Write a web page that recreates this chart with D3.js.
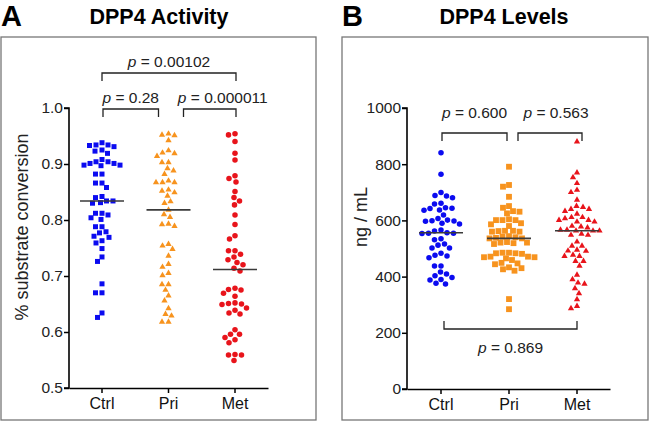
<!DOCTYPE html>
<html><head><meta charset="utf-8">
<script src="https://cdn.jsdelivr.net/npm/d3@7"></script>
<style>body{margin:0;background:#fff}svg{display:block;font-family:"Liberation Sans",Arial,sans-serif}</style>
</head><body><svg id="c" width="650" height="423"></svg>
<script>
const categories = ["Ctrl","Pri","Met"];
// Panel A: DPP4 activity (% substrate conversion)
const actCtrl = [0.934,0.933,0.925,0.931,0.919,0.923,0.938,0.934,
  0.908,0.904,0.901,0.898,0.897,0.898,0.901,0.904,0.882,0.882,0.866,0.858,0.866,
  0.840,0.834,0.831,0.830,0.834,0.842,0.812,0.804,0.801,0.809,0.812,
  0.788,0.777,0.779,0.788,0.769,0.763,0.759,0.771,0.749,0.734,0.726,
  0.686,0.670,0.670,0.626,0.634];
const actPri = [0.954,0.951,0.942,0.952,0.924,0.919,0.914,0.920,0.903,0.903,
  0.892,0.882,0.888,0.870,0.867,0.867,0.867,0.854,0.849,0.843,0.852,0.830,0.833,
  0.818,0.810,0.805,0.793,0.789,0.792,0.754,0.748,0.757,0.736,0.721,0.716,
  0.701,0.705,0.685,0.685,0.675,0.665,0.656,0.642,0.629,0.632,0.618,0.618];
const actMet = [0.952,0.954,0.940,0.919,0.907,0.874,0.868,0.879,0.851,0.840,0.834,0.827,
  0.809,0.792,0.766,0.772,0.745,0.745,0.734,0.739,0.729,0.724,0.720,0.714,0.709,
  0.676,0.669,0.678,0.664,0.675,0.651,0.643,0.649,0.650,0.652,0.634,0.632,0.639,
  0.604,0.596,0.596,0.586,0.581,0.590,0.559,0.549,0.559,0.560];
// Panel B: DPP4 levels (ng / mL)
const lvlCtrl = [841,764,689,681,687,699,661,658,645,637,636,643,642,619,
  601,598,590,587,597,599,607,562,554,554,553,556,566,535,531,
  512,502,502,516,483,473,467,476,438,438,416,409,397,403,390,388,374,376];
const lvlPri = [791,726,720,684,631,625,633,645,651,601,601,586,580,590,601,604,
  563,562,560,560,563,536,538,540,542,544,536,521,521,519,523,516,
  485,483,485,483,481,469,465,471,469,471,444,449,447,459,426,421,430,433,320,284];
const lvlMet = [880,770,753,732,700,708,673,647,640,651,633,640,611,623,611,
  601,595,595,601,607,578,566,563,563,563,566,574,580,548,552,548,524,509,509,
  491,492,495,477,473,473,455,455,438,406,390,374,378,358,340,319,287,295];
const actTicks = [0.5,0.6,0.7,0.8,0.9,1.0];
const lvlTicks = [0,200,400,600,800,1000];
const actPvals = ["0.00102","0.28","0.000011"];
const lvlPvals = ["0.600","0.563","0.869"];

const colors = ["#0b0bf0","#f7931e","#e8141b"];
const svg = d3.select("#c");

function swarm(vals, cx, y, d){
  const pts = vals.map(v=>({v, y:y(v)})).sort((a,b)=>a.y-b.y);
  const placed = [];
  pts.forEach(p=>{
    let best = 0;
    for(let k=0;k<400;k++){
      const off = (k%2===0?1:-1)*Math.ceil(k/2)*0.5;
      const ok = placed.every(q=>{const dx=q.x-(cx+off), dy=q.y-p.y; return dx*dx+dy*dy>=d*d;});
      if(ok){best=off;break;}
    }
    p.x = cx+best; placed.push(p);
  });
  return placed;
}

function panel(o){
  const g = svg.append("g");
  g.append("rect").attr("x",o.box[0]).attr("y",o.box[1]).attr("width",o.box[2]).attr("height",o.box[3])
    .attr("fill","none").attr("stroke","#777").attr("stroke-width",1.3);
  g.append("text").attr("x",o.letterX).attr("y",26).attr("font-size",29).attr("font-weight","bold").text(o.letter);
  g.append("text").attr("x",o.titleX).attr("y",24).attr("font-size",21.5).attr("font-weight","bold")
    .attr("text-anchor","middle").text(o.title);
  const x = d3.scalePoint().domain(categories).range(o.xr);
  const y = d3.scaleLinear().domain(o.yd).range([o.y0,108]);
  const ya = g.append("g").attr("transform",`translate(${o.ax},0)`)
    .call(d3.axisLeft(y).tickValues(o.ticks).tickFormat(o.fmt).tickSize(5).tickPadding(1));
  const xa = g.append("g").attr("transform",`translate(0,${o.y0})`)
    .call(d3.axisBottom(d3.scaleLinear().domain([0,1]).range([o.ax,o.xEnd])).tickValues([]).tickSizeOuter(0));
  categories.forEach(c=>{
    xa.append("line").attr("x1",x(c)).attr("x2",x(c)).attr("y1",0).attr("y2",5).attr("stroke","#000").attr("stroke-width",1.5);
    xa.append("text").attr("x",x(c)).attr("y",21).attr("text-anchor","middle").attr("font-size",16).attr("fill","#111").text(c);
  });
  [ya,xa].forEach(a=>{a.selectAll(".domain").attr("stroke","#000").attr("stroke-width",1.6);
    a.selectAll(".tick line").attr("stroke","#000").attr("stroke-width",1.5);
    a.selectAll(".tick text").attr("font-size",15.5).attr("fill","#222").attr("font-family","Liberation Sans, Arial");});
  ya.select(".domain").attr("d",`M-5,108H0V${o.y0}H-5`);
  g.append("text").attr("transform",`translate(${o.ytX},${o.ytY}) rotate(-90)`).attr("text-anchor","middle")
    .attr("font-size",18).attr("fill","#222").text(o.ytitle);
  o.data.forEach((vals,i)=>{
    const pts = swarm(vals, x(categories[i]), y, o.d);
    g.append("g").selectAll("path").data(pts).join("path")
      .attr("transform",p=>`translate(${p.x},${p.y})`)
      .attr("d",d3.symbol(o.shapes[i], o.sizes[i])).attr("fill",colors[i]);
    const m = d3.median(vals);
    g.append("line").attr("x1",x(categories[i])-22).attr("x2",x(categories[i])+22)
      .attr("y1",y(m)).attr("y2",y(m)).attr("stroke","#3a3a3a").attr("stroke-width",1.6);
  });
  o.brackets.forEach(b=>{
    const x1 = x(categories[b.a])+b.o1, x2 = x(categories[b.b])+b.o2;
    const e = b.down ? 8 : -8;
    g.append("path").attr("d",`M${x1},${b.y+e}V${b.y}H${x2}V${b.y+e}`)
      .attr("fill","none").attr("stroke","#222").attr("stroke-width",1.3);
    const t = g.append("text").attr("x",(x1+x2)/2+b.tx).attr("y",b.ty).attr("text-anchor","middle").attr("font-size",15.5).attr("fill","#222");
    t.append("tspan").attr("font-style","italic").text("p");
    t.append("tspan").text(" = "+b.p);
  });
}

panel({box:[1,37,315,383], letter:"A", letterX:1, title:"DPP4 Activity", titleX:159,
  xr:[102,235], yd:[0.5,1.0], y0:388, ax:69, xEnd:268, ticks:actTicks, fmt:d3.format(".1f"),
  ytitle:"% substrate conversion", ytX:28, ytY:227, data:[actCtrl,actPri,actMet], d:6.2,
  shapes:[d3.symbolSquare,d3.symbolTriangle,d3.symbolCircle], sizes:[25,17,24],
  brackets:[{a:0,b:2,o1:0,o2:1,y:73,down:true,p:actPvals[0],ty:67,tx:0},
            {a:0,b:1,o1:1,o2:-10,y:109,down:true,p:actPvals[1],ty:103,tx:0},
            {a:1,b:2,o1:15,o2:1,y:109,down:true,p:actPvals[2],ty:103,tx:13}]});

panel({box:[342,37,306,383], letter:"B", letterX:342, title:"DPP4 Levels", titleX:504,
  xr:[441,577], yd:[0,1000], y0:389, ax:407, xEnd:610, ticks:lvlTicks, fmt:d3.format("d"),
  ytitle:"ng / mL", ytX:367, ytY:217, data:[lvlCtrl,lvlPri,lvlMet], d:6.2,
  shapes:[d3.symbolCircle,d3.symbolSquare,d3.symbolTriangle], sizes:[24,34,17],
  brackets:[{a:0,b:1,o1:1,o2:-2,y:133,down:true,p:lvlPvals[0],ty:118,tx:0},
            {a:1,b:2,o1:9,o2:5,y:133,down:true,p:lvlPvals[1],ty:118,tx:6},
            {a:0,b:2,o1:3,o2:0,y:329,down:false,p:lvlPvals[2],ty:353,tx:0}]});
</script></body></html>
